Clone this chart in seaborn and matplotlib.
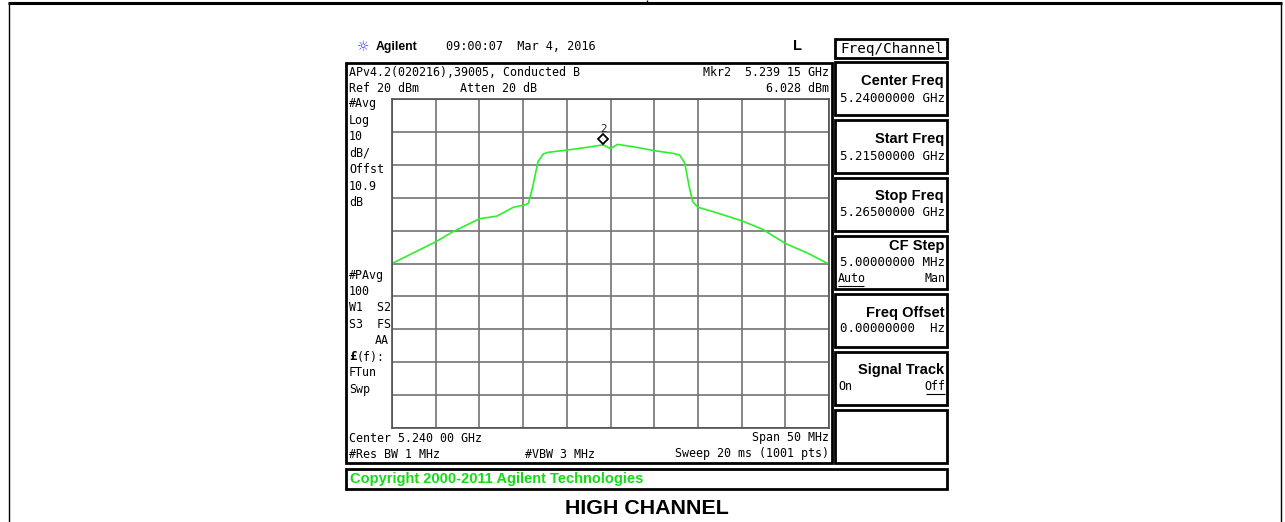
import matplotlib
matplotlib.use("Agg")
import matplotlib.pyplot as plt
import matplotlib.transforms as mtransforms
from matplotlib.patches import Rectangle
from matplotlib.lines import Line2D
import seaborn as sns
import pandas as pd

# ---------------- data ----------------
freq_ghz = [5.2150, 5.2175, 5.2200, 5.2220, 5.2250, 5.2270, 5.2289, 5.2302, 5.2306,
            5.2311, 5.2317, 5.2323, 5.2329, 5.2351, 5.2373, 5.2390, 5.2392, 5.2400,
            5.2408, 5.2426, 5.2450, 5.2471, 5.2479, 5.2485, 5.2490, 5.2494, 5.2500,
            5.2517, 5.2550, 5.2574, 5.2600, 5.2626, 5.2650]
level_dbm = [-30.0, -26.7, -23.4, -20.3, -16.4, -15.6, -12.9, -12.2, -11.7,
             -6.7, 0.9, 3.3, 3.8, 4.5, 5.3, 6.0, 6.0, 4.9,
             6.2, 5.5, 4.3, 3.5, 3.0, 0.5, -6.6, -11.2, -12.9,
             -14.2, -17.0, -19.6, -23.9, -26.9, -30.2]
marker_freq = [5.23915]
marker_level = [6.028]
marker_label = ["2"]

start_ghz, stop_ghz = 5.215, 5.265
ref_dbm, db_per_div = 20, 10

header_left = ["APv4.2(020216),39005, Conducted B", "Ref 20 dBm"]
header_mid = "Atten 20 dB"
header_right = ["Mkr2  5.239 15 GHz", "6.028 dBm"]
left_top_labels = ["#Avg", "Log", "10", "dB/", "Offst", "10.9", "dB"]
left_bot_labels = ["#PAvg", "100", "W1  S2", "S3  FS"]
softkey_titles = ["Center Freq", "Start Freq", "Stop Freq", "CF Step",
                  "Freq Offset", "Signal Track", ""]
softkey_values = ["5.24000000 GHz", "5.21500000 GHz", "5.26500000 GHz",
                  "5.00000000 MHz", "0.00000000  Hz", "", ""]

# ---------------- figure ----------------
W, H = 1285, 522
sns.set_theme(style="white")
plt.rcParams["font.family"] = ["DejaVu Sans"]
fig = plt.figure(figsize=(W / 100, H / 100), dpi=100)
fig.patch.set_facecolor("white")


def fx(x):
    return x / W


def fy(y):
    return 1 - y / H


def txt(x, y, s, ha="left", size=8.4, family="DejaVu Sans Mono", weight="normal", color="black", **kw):
    fig.text(fx(x), fy(y), s, ha=ha, va="center", fontsize=size, family=family,
             weight=weight, color=color, **kw)


def box(x0, y0, x1, y1, lw=1.5, color="black"):
    fig.add_artist(Rectangle((fx(x0), fy(y1)), (x1 - x0) / W, (y1 - y0) / H,
                             transform=fig.transFigure, fill=False, lw=lw, ec=color))


def line(x0, y0, x1, y1, lw=1.0, color="black"):
    fig.add_artist(Line2D([fx(x0), fx(x1)], [fy(y0), fy(y1)], transform=fig.transFigure,
                          lw=lw, color=color, solid_capstyle="butt"))


# page frame
line(8, 3, 1282, 3, lw=2.2)
line(9, 3, 9, 522, lw=1.0)
line(1281, 3, 1281, 522, lw=1.0)
line(647, 0, 647, 4, lw=1.0)

# ---------------- trace axes ----------------
gx0, gx1, gy0, gy1 = 392, 829, 99, 428
ax = fig.add_axes([fx(gx0), fy(gy1), (gx1 - gx0) / W, (gy1 - gy0) / H])
df = pd.DataFrame({"freq": freq_ghz, "level": level_dbm})
sns.lineplot(data=df, x="freq", y="level", ax=ax, color="#2cf02c", linewidth=1.2,
             sort=False, legend=False)
ax.set_xlim(start_ghz, stop_ghz)
ax.set_ylim(ref_dbm - 10 * db_per_div, ref_dbm)
step = (stop_ghz - start_ghz) / 10
ax.set_xticks([start_ghz + i * step for i in range(11)])
ax.set_yticks([ref_dbm - i * db_per_div for i in range(11)])
ax.grid(True, color="#737373", linewidth=1.2)
ax.tick_params(length=0, labelbottom=False, labelleft=False)
ax.set_xlabel("")
ax.set_ylabel("")
for sp in ax.spines.values():
    sp.set_color("#505050")
    sp.set_linewidth(1.2)
ax.set_axisbelow(True)

off = mtransforms.offset_copy(ax.transData, fig=fig, x=0, y=6, units="dots")
ax.plot(marker_freq, marker_level, marker="D", markersize=5.5, markerfacecolor="white",
        markeredgecolor="black", markeredgewidth=1.3, linestyle="none", transform=off,
        clip_on=False)
off2 = mtransforms.offset_copy(ax.transData, fig=fig, x=0, y=16, units="dots")
ax.text(marker_freq[0], marker_level[0], marker_label[0], transform=off2, ha="center",
        va="center", fontsize=7.5, family="DejaVu Sans")

# ---------------- analyzer screen ----------------
box(346, 63, 832, 463, lw=2.0)
box(346, 469, 947, 489, lw=2.0)

# top status line
txt(357, 47, "\u263c", size=10, family="DejaVu Sans", color="#3a3aff")
txt(376, 47, "Agilent", size=8.8, family="Liberation Sans", weight="bold")
txt(446, 47, "09:00:07  Mar 4, 2016", size=8.6)
txt(797, 46, "L", size=10.5, family="Liberation Sans", weight="bold", ha="center")

# header
txt(349, 72, header_left[0])
txt(349, 88, header_left[1])
txt(460, 88, header_mid)
txt(829, 72, header_right[0], ha="right")
txt(829, 88, header_right[1], ha="right")

# left labels
for i, s in enumerate(left_top_labels):
    txt(349, 104 + i * 16.4, s)
for i, s in enumerate(left_bot_labels):
    txt(349, 275 + i * 16.4, s)
txt(389, 341, "AA", ha="right")
txt(349, 357, "\u00a3", weight="bold", size=9)
txt(357, 357, "(f):")
txt(349, 373, "FTun")
txt(349, 390, "Swp")

# footer
txt(349, 438, "Center 5.240 00 GHz")
txt(829, 438, "Span 50 MHz", ha="right")
txt(349, 454, "#Res BW 1 MHz")
txt(525, 454, "#VBW 3 MHz")
txt(829, 454, "Sweep 20 ms (1001 pts)", ha="right")

txt(350, 479, "Copyright 2000-2011 Agilent Technologies", size=10.5,
    family="Liberation Sans", weight="bold", color="#11dd11")

# soft keys
box(835, 39, 947, 58, lw=2.0)
txt(944, 48.5, "Freq/Channel", ha="right", size=10.3)
title_dy = [19, 19, 18, 10, 19, 18, 0]
value_dy = [36, 36, 35, 26, 34, 0, 0]
for i, (title, val) in enumerate(zip(softkey_titles, softkey_values)):
    y0 = 62 + i * 58
    box(835, y0, 947, y0 + 53, lw=2.0)
    if title:
        txt(944, y0 + title_dy[i], title, ha="right", size=10.5,
            family="Liberation Sans", weight="bold")
    if val:
        txt(945, y0 + value_dy[i], val, ha="right", size=9.0)

# CF step auto/man
txt(838, 279, "Auto", size=8.4)
line(838, 286, 864, 286, lw=0.8)
txt(945, 279, "Man", ha="right", size=8.4)
# signal track on/off
txt(838, 387, "On", size=8.4)
txt(945, 387, "Off", ha="right", size=8.4)
line(926, 394, 945, 394, lw=0.8)

# caption
txt(647, 508, "HIGH CHANNEL", ha="center", size=15.4, family="Liberation Sans", weight="bold")

fig.savefig("out.png", dpi=100, facecolor="white")
